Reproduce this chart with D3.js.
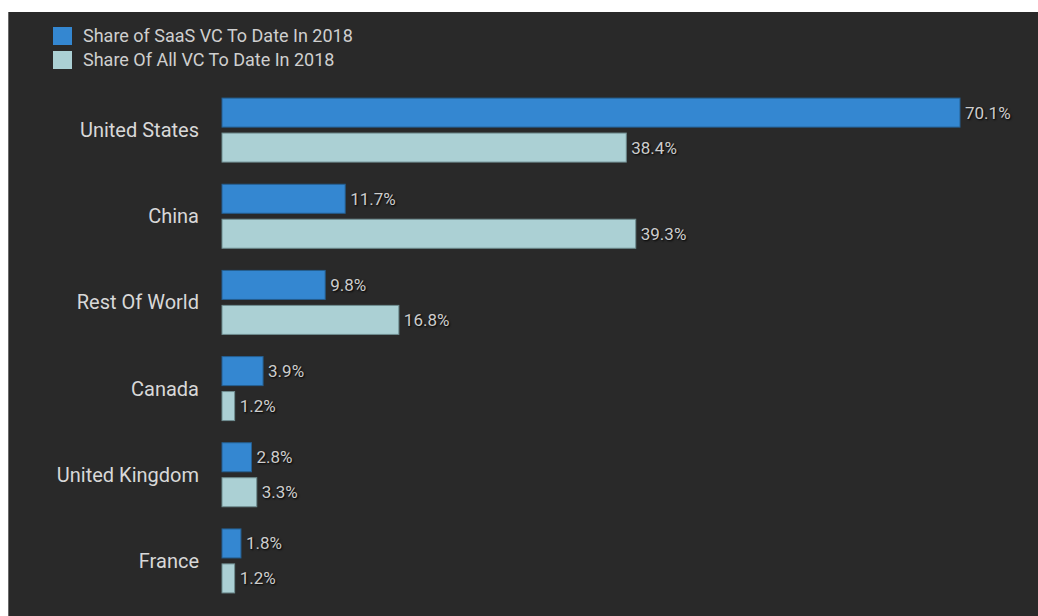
<!DOCTYPE html>
<html>
<head>
<meta charset="utf-8">
<script src="https://cdn.jsdelivr.net/npm/d3@7"></script>
<style>
  body { margin: 0; background: #fff; }
  text { font-family: Roboto, "Noto Sans", sans-serif; }
  .val { text-shadow: 1px 1px 2px #000; }
</style>
</head>
<body>
<div id="chart"></div>
<script>
// chart data
const countries = ["United States", "China", "Rest Of World", "Canada", "United Kingdom", "France"];
const seriesNames = ["Share of SaaS VC To Date In 2018", "Share Of All VC To Date In 2018"];
const saasShare = [70.1, 11.7, 9.8, 3.9, 2.8, 1.8];
const allShare = [38.4, 39.3, 16.8, 1.2, 3.3, 1.2];
const colors = ["#3487d1", "#abd0d4"];

var width = 1038, height = 616;
var margin = {top: 87, left: 222, bottom: 12, right: 20};

var svg = d3.select("#chart")
  .append("svg")
    .attr("width", width)
    .attr("height", height);

// dark panel
svg.append("rect")
  .attr("x", 8).attr("y", 12)
  .attr("width", width - 8).attr("height", height - 12)
  .attr("fill", "#292929");
svg.append("line")
  .attr("x1", 8.5).attr("x2", 8.5).attr("y1", 12).attr("y2", height)
  .attr("stroke", "#6a6a6a");

var x = d3.scaleLinear()
  .domain([0, 70.1])
  .range([margin.left, 960]);

var y = d3.scaleBand()
  .domain(countries)
  .range([margin.top, height - margin.bottom]);

var sub = d3.scaleBand()
  .domain([0, 1])
  .range([-32, 32])
  .paddingInner(0.17);

// category labels
svg.selectAll(".cat")
  .data(countries)
  .enter()
  .append("text")
    .attr("class", "cat")
    .attr("x", 199)
    .attr("y", d => y(d) + y.bandwidth() / 2)
    .attr("dy", "0.35em")
    .attr("text-anchor", "end")
    .attr("font-size", 20)
    .attr("fill", "#d8d8d8")
    .text(d => d);

var rows = [];
countries.forEach((c, i) => {
  rows.push({country: c, s: 0, v: saasShare[i]});
  rows.push({country: c, s: 1, v: allShare[i]});
});

svg.selectAll(".bar")
  .data(rows)
  .enter()
  .append("rect")
    .attr("class", "bar")
    .attr("x", x(0))
    .attr("y", d => y(d.country) + y.bandwidth() / 2 + sub(d.s))
    .attr("width", d => x(d.v) - x(0))
    .attr("height", sub.bandwidth())
    .attr("fill", d => colors[d.s])
    .attr("stroke", d => d.s == 0 ? "#255f91" : "#6f8d90")
    .attr("stroke-width", 1);

svg.selectAll(".val")
  .data(rows)
  .enter()
  .append("text")
    .attr("class", "val")
    .attr("x", d => x(d.v) + 5)
    .attr("y", d => y(d.country) + y.bandwidth() / 2 + sub(d.s) + sub.bandwidth() / 2)
    .attr("dy", "0.35em")
    .attr("font-size", 17)
    .attr("fill", "#cdcdcd")
    .text(d => d.v.toFixed(1) + "%");

// legend
var legend = svg.selectAll(".leg")
  .data(seriesNames)
  .enter()
  .append("g")
    .attr("transform", (d, i) => "translate(53," + (27 + i * 24) + ")");

legend.append("rect")
  .attr("width", 19).attr("height", 18)
  .attr("fill", (d, i) => colors[i]);

legend.append("text")
  .attr("x", 30).attr("y", 9)
  .attr("dy", "0.35em")
  .attr("font-size", 18)
  .attr("fill", "#cfcfcf")
  .text(d => d);
</script>
</body>
</html>
